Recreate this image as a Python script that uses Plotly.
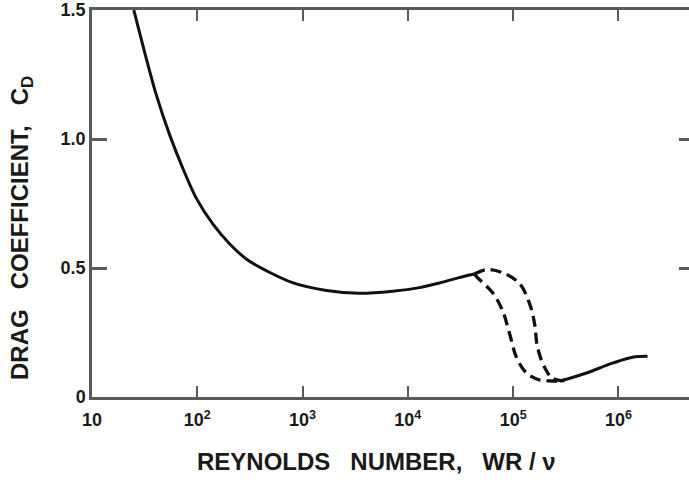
import plotly.graph_objects as go

# Data (log10 Reynolds number, drag coefficient)
solid_logre = [1.397, 1.499, 1.610, 1.736, 1.862, 1.990, 2.147, 2.306, 2.489,
               2.904, 3.227, 3.540, 3.854, 4.110, 4.300, 4.554, 4.632]
solid_cd = [1.50, 1.338, 1.172, 1.018, 0.887, 0.771, 0.671, 0.594, 0.528,
            0.443, 0.413, 0.402, 0.410, 0.424, 0.442, 0.470, 0.477]

dash1_logre = [4.632, 4.661, 4.803, 4.898, 4.965, 5.031, 5.126, 5.250, 5.373, 5.440]
dash1_cd = [0.477, 0.463, 0.405, 0.336, 0.247, 0.154, 0.093, 0.066, 0.062, 0.062]

dash2_logre = [4.632, 4.746, 4.898, 5.060, 5.155, 5.203, 5.231, 5.297, 5.373, 5.506]
dash2_cd = [0.477, 0.494, 0.482, 0.440, 0.363, 0.285, 0.193, 0.116, 0.073, 0.062]

tail_logre = [5.440, 5.506, 5.696, 5.943, 6.133, 6.276]
tail_cd = [0.062, 0.069, 0.093, 0.131, 0.154, 0.158]

x_tickvals = [10, 100, 1000, 10000, 100000, 1000000]
x_ticktext = ["10", "10<sup>2</sup>", "10<sup>3</sup>", "10<sup>4</sup>", "10<sup>5</sup>", "10<sup>6</sup>"]
y_tickvals = [0, 0.5, 1.0, 1.5]
y_ticktext = ["0", "0.5", "1.0", "1.5"]

def pw(a):
    return [10 ** v for v in a]

ink = "#111111"
axis_col = "#5a5a5a"
text_col = "#1a1a1a"
font_fam = "Liberation Sans, Arial, sans-serif"

fig = go.Figure()
fig.add_trace(go.Scatter(x=pw(solid_logre), y=solid_cd, mode="lines",
                         line=dict(color=ink, width=3, shape="spline", smoothing=0.8)))
fig.add_trace(go.Scatter(x=pw(dash1_logre), y=dash1_cd, mode="lines",
                         line=dict(color=ink, width=3.3, shape="spline", dash="11px,6px")))
fig.add_trace(go.Scatter(x=pw(dash2_logre), y=dash2_cd, mode="lines",
                         line=dict(color=ink, width=3.3, shape="spline", dash="11px,6px")))
fig.add_trace(go.Scatter(x=pw(tail_logre), y=tail_cd, mode="lines",
                         line=dict(color=ink, width=3, shape="spline")))
# invisible trace for right-side ticks
fig.add_trace(go.Scatter(x=[10], y=[0], yaxis="y2", mode="markers",
                         marker=dict(opacity=0), hoverinfo="skip"))

fig.update_layout(
    width=689, height=482,
    margin=dict(l=92, r=0, t=8, b=85),
    paper_bgcolor="white", plot_bgcolor="white",
    showlegend=False,
    font=dict(family=font_fam, color=text_col),
    xaxis=dict(type="log", range=[1, 6.67], showgrid=False, zeroline=False,
               showline=True, linecolor=axis_col, linewidth=2.5, mirror="ticks",
               ticks="inside", ticklen=11, tickwidth=2, tickcolor=axis_col,
               tickvals=x_tickvals, ticktext=x_ticktext, ticklabelstandoff=5,
               tickfont=dict(size=18, family=font_fam, color=text_col, weight="bold")),
    yaxis=dict(range=[0, 1.5001], showgrid=False, zeroline=False,
               showline=True, linecolor=axis_col, linewidth=2.5,
               ticks="inside", ticklen=15, tickwidth=2.5, tickcolor=axis_col,
               tickvals=y_tickvals, ticktext=y_ticktext, ticklabeloverflow="allow",
               tickfont=dict(size=18, family=font_fam, color=text_col, weight="bold")),
    yaxis2=dict(range=[0, 1.5001], overlaying="y", side="right", showgrid=False,
                zeroline=False, showline=False, ticks="inside", ticklen=10,
                tickwidth=2.5, tickcolor=axis_col, tickvals=[0.5, 1.0],
                showticklabels=False),
)

fig.add_annotation(text="REYNOLDS&nbsp;&nbsp;&nbsp;NUMBER,&nbsp;&nbsp;&nbsp;WR / ν",
                   xref="paper", yref="paper", x=0.477, y=-0.167, yanchor="middle",
                   showarrow=False,
                   font=dict(size=24, family=font_fam, color=text_col, weight="bold"))
fig.add_annotation(text="DRAG&nbsp;&nbsp;&nbsp;COEFFICIENT,&nbsp;&nbsp;&nbsp;C<sub>D</sub>",
                   xref="paper", yref="paper", x=-0.117, y=0.437, textangle=-90,
                   xanchor="center", yanchor="middle",
                   showarrow=False,
                   font=dict(size=24, family=font_fam, color=text_col, weight="bold"))

fig.write_html("out.html")
